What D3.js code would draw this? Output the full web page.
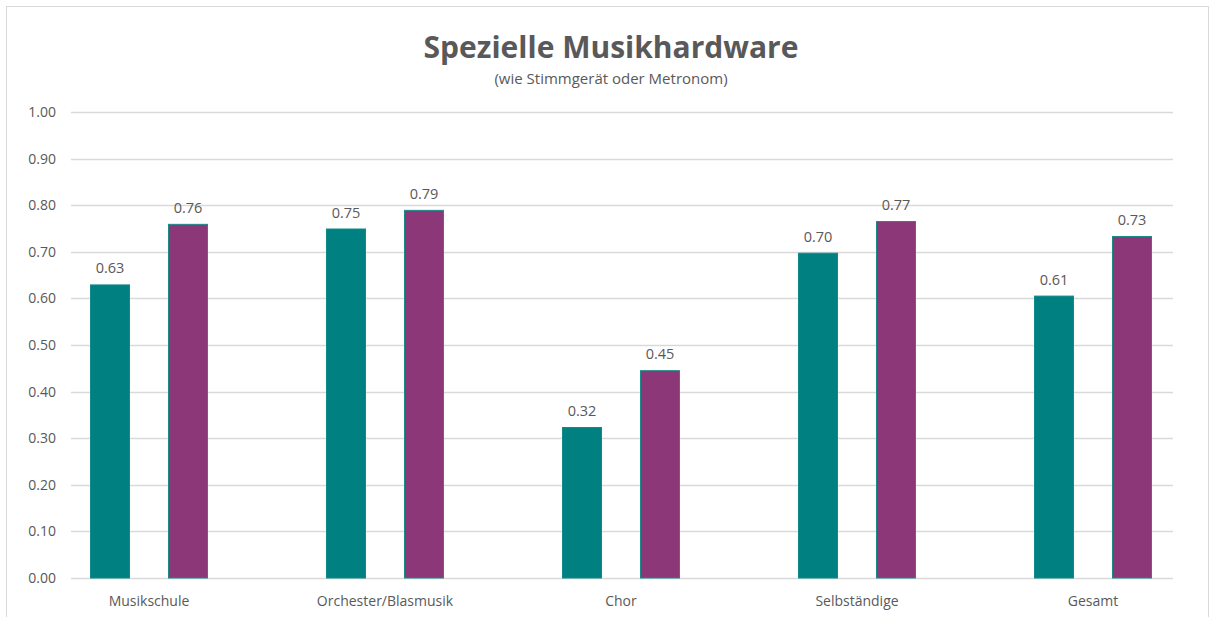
<!DOCTYPE html>
<html>
<head>
<meta charset="utf-8">
<script src="https://cdn.jsdelivr.net/npm/d3@7"></script>
<style>
  body { margin: 0; background: #fff; }
  svg text { font-family: "Open Sans", "Noto Sans", sans-serif; fill: #595959; }
</style>
</head>
<body>
<div id="chart-container"></div>
<script>
// data
var categories = ["Musikschule", "Orchester/Blasmusik", "Chor", "Selbständige", "Gesamt"];
var seriesNames = ["a", "b"];
var seriesA = [0.63, 0.75, 0.324, 0.698, 0.606];
var seriesB = [0.76, 0.79, 0.446, 0.766, 0.734];
var yTicks = [0, 0.1, 0.2, 0.3, 0.4, 0.5, 0.6, 0.7, 0.8, 0.9, 1.0];

var colors = { a: "#008080", b: "#8b3778" };
var strokes = { a: "#118a8a", b: "#1a8a8a" };

var w = 1215, h = 617;

var dataset = categories.map(function(c, i){
    return { name: c, a: seriesA[i], b: seriesB[i] };
});

var svg = d3.select("#chart-container").append("svg")
    .attr("width", w).attr("height", h);

// chart frame
svg.append("rect")
    .attr("x", 6.5).attr("y", 6.5)
    .attr("width", 1202).attr("height", 620)
    .attr("fill", "#fff")
    .attr("stroke", "#d9d9d9");

// scales
var yScale = d3.scaleLinear().domain([0, 1]).range([578, 112]);

var xScale = d3.scaleBand()
    .domain(categories)
    .range([31, 1211])
    .paddingInner(0).paddingOuter(0);

var xSub = d3.scaleBand()
    .domain(seriesNames)
    .range([40, 196])
    .padding(0);

// gridlines
svg.append("g")
    .selectAll("line")
    .data(yTicks)
    .enter().append("line")
    .attr("x1", 71).attr("x2", 1173)
    .attr("y1", function(d){ return Math.round(yScale(d)) + 0.5; })
    .attr("y2", function(d){ return Math.round(yScale(d)) + 0.5; })
    .attr("stroke", "#d9d9d9")
    .attr("stroke-width", 1.3);

// y axis labels
svg.append("g")
    .selectAll("text")
    .data(yTicks)
    .enter().append("text")
    .attr("x", 56)
    .attr("y", function(d){ return yScale(d); })
    .attr("dy", "0.35em")
    .attr("text-anchor", "end")
    .style("font-size", "14px")
    .text(function(d){ return d3.format(".2f")(d); });

// bars
var groups = svg.append("g").selectAll("g")
    .data(dataset)
    .enter().append("g")
    .attr("transform", function(d){ return "translate(" + xScale(d.name) + ",0)"; });

var barW = 40;
groups.selectAll("rect")
    .data(function(d){ return seriesNames.map(function(k){ return { key: k, value: d[k] }; }); })
    .enter().append("rect")
    .attr("x", function(d){ return xSub(d.key) + (xSub.bandwidth() - barW) / 2 + 0.5; })
    .attr("y", function(d){ return yScale(d.value) + 0.5; })
    .attr("width", barW - 1)
    .attr("height", function(d){ return yScale(0) - yScale(d.value) - 0.5; })
    .attr("fill", function(d){ return colors[d.key]; })
    .attr("stroke", function(d){ return strokes[d.key]; })
    .attr("stroke-width", 1);

// data labels
groups.selectAll("text")
    .data(function(d){ return seriesNames.map(function(k){ return { key: k, value: d[k] }; }); })
    .enter().append("text")
    .attr("x", function(d){ return xSub(d.key) + xSub.bandwidth() / 2; })
    .attr("y", function(d){ return yScale(d.value) - 11; })
    .attr("text-anchor", "middle")
    .style("font-size", "14.5px")
    .text(function(d){ return d3.format(".2f")(d.value); });

// category labels
svg.append("g")
    .selectAll("text")
    .data(categories)
    .enter().append("text")
    .attr("x", function(d){ return xScale(d) + xScale.bandwidth() / 2; })
    .attr("y", 606)
    .attr("text-anchor", "middle")
    .style("font-size", "14px")
    .text(function(d){ return d; });

// title
svg.append("text")
    .attr("x", 611).attr("y", 58)
    .attr("text-anchor", "middle")
    .style("font-size", "30px")
    .style("font-weight", "bold")
    .text("Spezielle Musikhardware");

svg.append("text")
    .attr("x", 611).attr("y", 84)
    .attr("text-anchor", "middle")
    .style("font-size", "15px")
    .text("(wie Stimmgerät oder Metronom)");
</script>
</body>
</html>
